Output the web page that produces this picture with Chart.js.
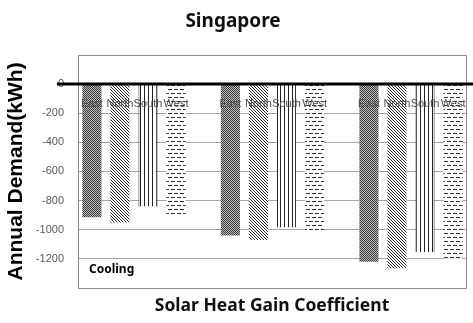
<!DOCTYPE html>
<html>
<head>
<meta charset="utf-8">
<script src="https://cdn.jsdelivr.net/npm/chart.js@4/dist/chart.umd.min.js"></script>
<style>
  html, body { margin: 0; padding: 0; background: #fff; }
  #wrap { width: 473px; height: 323px; }
</style>
</head>
<body>
<div id="wrap"><canvas id="c" width="473" height="323"></canvas></div>
<script>
// Group positions along the SHGC axis (one group of four orientations each)
const groupPositions = [0, 1, 2];
const orientations = ['East', 'North', 'South', 'West'];

// Annual cooling demand (kWh) per orientation
const eastValues  = [-915, -1040, -1220];
const northValues = [-950, -1070, -1265];
const southValues = [-840, -985, -1155];
const westValues  = [-910, -1020, -1200];

// Labelled y ticks
const yTickLabels = [0, -200, -400, -600, -800, -1000, -1200];

const titleText = 'Singapore';
const xTitleText = 'Solar Heat Gain Coefficient';
const yTitleText = 'Annual Demand(kWh)';
const noteText = 'Cooling';

// ---- fill patterns ----
function makePattern(w, h, draw) {
  const cv = document.createElement('canvas');
  cv.width = w; cv.height = h;
  const g = cv.getContext('2d');
  g.fillStyle = '#ffffff';
  g.fillRect(0, 0, w, h);
  draw(g);
  return g.createPattern(cv, 'repeat');
}
const dither = makePattern(2, 2, g => {
  g.fillStyle = '#bdbdbd'; g.fillRect(0, 0, 2, 2);
  g.fillStyle = '#3a3a3a'; g.fillRect(0, 0, 1, 1); g.fillRect(1, 1, 1, 1);
});
const diagonal = makePattern(3, 3, g => {
  g.fillStyle = '#2a2a2a';
  for (let i = 0; i < 3; i++) g.fillRect(i, i, 1, 1);
});
const vertical = makePattern(4, 4, g => {
  g.fillStyle = '#222';
  g.fillRect(0, 0, 1, 4);
});
const dashes = makePattern(6, 8, g => {
  g.fillStyle = '#333';
  g.fillRect(0, 1, 4, 1);
  g.fillRect(3, 5, 3, 1);
  g.fillRect(0, 5, 1, 1);
});

const seriesValues = [eastValues, northValues, southValues, westValues];
const fills = [dither, diagonal, vertical, dashes];

const datasets = orientations.map((name, k) => ({
  label: name,
  data: groupPositions.map((x, i) => ({ x: x, y: seriesValues[k][i] })),
  backgroundColor: fills[k],
  borderColor: '#222',
  borderWidth: name === 'South' ? { left: 1, right: 1, top: 0, bottom: 0 } : 0,
  borderSkipped: false,
  categoryPercentage: 0.81,
  barPercentage: 0.68
}));

// Frame around the plot, heavy zero line, orientation labels and note
const decorations = {
  id: 'decorations',
  beforeDatasetsDraw(chart) {
    const { ctx, chartArea: a } = chart;
    ctx.save();
    ctx.strokeStyle = '#8c8c8c';
    ctx.lineWidth = 1;
    ctx.strokeRect(Math.round(a.left) + 0.5, Math.round(a.top) + 0.5,
                   Math.round(a.right - a.left), Math.round(a.bottom - a.top));
    ctx.restore();
  },
  afterDatasetsDraw(chart) {
    const { ctx, chartArea: a, scales } = chart;
    const y0 = scales.y.getPixelForValue(0);
    ctx.save();
    // orientation names under the zero line
    ctx.font = '11px "Liberation Sans", Arial, sans-serif';
    ctx.fillStyle = '#4d4d4d';
    ctx.textAlign = 'center';
    ctx.textBaseline = 'middle';
    chart.data.datasets.forEach((ds, k) => {
      chart.getDatasetMeta(k).data.forEach(bar => {
        ctx.fillText(ds.label, bar.x, y0 + 20);
      });
    });
    // zero line
    ctx.strokeStyle = '#000';
    ctx.lineWidth = 3;
    ctx.beginPath();
    ctx.moveTo(a.left - 21, y0);
    ctx.lineTo(chart.width, y0);
    ctx.stroke();
    // note
    ctx.font = 'bold 12px "Noto Sans", sans-serif';
    ctx.fillStyle = '#000';
    ctx.textAlign = 'left';
    ctx.fillText(noteText, a.left + 11, a.bottom - 18);
    ctx.restore();
  }
};

new Chart(document.getElementById('c'), {
  type: 'bar',
  data: { datasets },
  plugins: [decorations],
  options: {
    responsive: false,
    animation: false,
    layout: { padding: { left: 0, right: 7, top: 0, bottom: 0 } },
    plugins: {
      legend: { display: false },
      tooltip: { enabled: false },
      title: {
        display: true,
        text: titleText,
        color: '#111',
        font: { family: '"Noto Sans", sans-serif', size: 19, weight: 'bold' },
        padding: { top: 10, bottom: 22 }
      }
    },
    scales: {
      x: {
        type: 'linear',
        min: -0.404,
        max: 2.397,
        offset: false,
        afterBuildTicks(scale) { scale.ticks = groupPositions.map(v => ({ value: v })); },
        afterFit(scale) { scale.height = 35; },
        grid: { display: false, drawTicks: false },
        border: { display: false },
        ticks: { display: false },
        title: {
          display: true,
          text: xTitleText,
          color: '#111',
          font: { family: '"Noto Sans", sans-serif', size: 17.5, weight: 'bold' },
          padding: { top: 0, bottom: 6 }
        }
      },
      y: {
        min: -1400,
        max: 200,
        afterFit(scale) { scale.width = 78; },
        border: { display: false },
        grid: {
          drawTicks: false,
          color: c => (c.tick && c.tick.value <= -200 && c.tick.value >= -1200) ? '#a6a6a6' : 'rgba(0,0,0,0)'
        },
        ticks: {
          stepSize: 200,
          padding: 14,
          color: '#595959',
          font: { family: '"Liberation Sans", Arial, sans-serif', size: 11 },
          callback: v => yTickLabels.includes(v) ? String(v) : ''
        },
        title: {
          display: true,
          text: yTitleText,
          color: '#000',
          font: { family: '"Liberation Sans", Arial, sans-serif', size: 21, weight: 'bold' },
          padding: { top: 4, bottom: 0 }
        }
      }
    }
  }
});
</script>
</body>
</html>
